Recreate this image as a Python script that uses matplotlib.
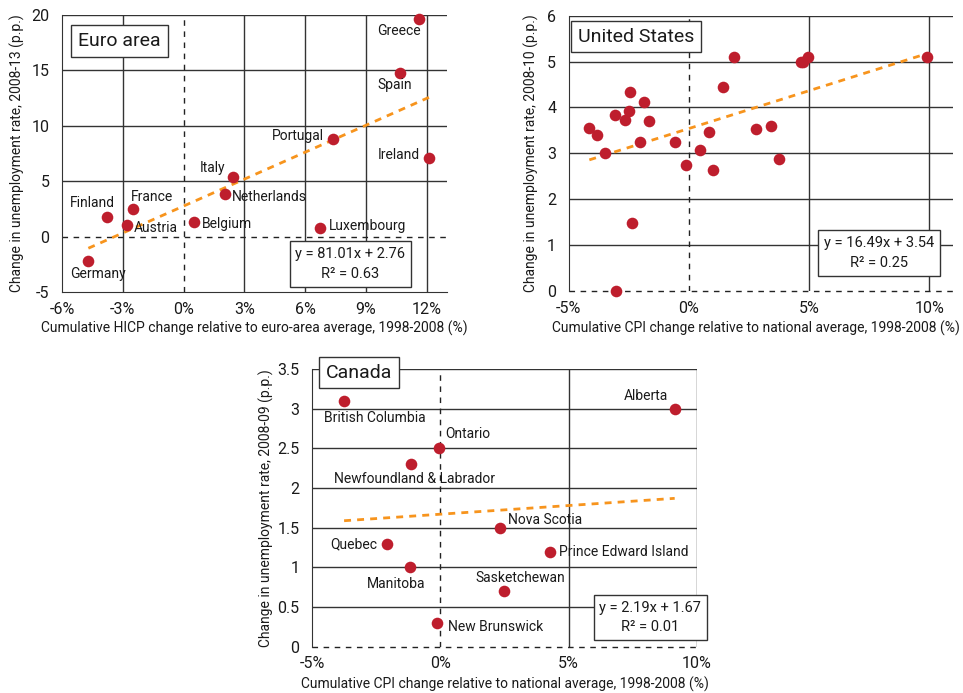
import matplotlib
matplotlib.use("Agg")
import matplotlib.pyplot as plt
import numpy as np

plt.rcParams['font.family'] = ['Roboto', 'DejaVu Sans']

# ---------------- data ----------------
euro_names = ["Greece", "Spain", "Portugal", "Ireland", "Italy", "Netherlands",
              "Belgium", "Luxembourg", "France", "Finland", "Austria", "Germany"]
euro_x = [11.62, 10.67, 7.35, 12.12, 2.45, 2.06, 0.51, 6.72, -2.51, -3.78, -2.78, -4.70]
euro_y = [19.6, 14.73, 8.77, 7.08, 5.36, 3.89, 1.36, 0.75, 2.47, 1.75, 1.08, -2.23]
euro_fit = (81.01, 2.76, 0.63)

us_x = [-4.14, -3.82, -3.49, -3.06, -3.04, -2.65, -2.48, -2.43, -2.36, -2.05, -1.87,
        -1.65, -0.56, -0.12, 0.46, 0.84, 1.02, 1.43, 1.89, 2.79, 3.41, 3.76, 4.65,
        4.76, 4.94, 9.90]
us_y = [3.56, 3.39, 3.01, 3.84, 0.0, 3.73, 3.92, 4.34, 1.49, 3.25, 4.12,
        3.70, 3.25, 2.74, 3.08, 3.46, 2.64, 4.45, 5.10, 3.53, 3.59, 2.88, 4.98,
        4.99, 5.10, 5.10]
us_fit = (16.49, 3.54, 0.25)

ca_names = ["British Columbia", "Alberta", "Ontario", "Newfoundland & Labrador",
            "Nova Scotia", "Quebec", "Prince Edward Island", "Manitoba",
            "Sasketchewan", "New Brunswick"]
ca_x = [-3.75, 9.13, -0.04, -1.14, 2.34, -2.08, 4.27, -1.18, 2.49, -0.14]
ca_y = [3.10, 3.00, 2.50, 2.30, 1.50, 1.30, 1.20, 1.00, 0.70, 0.30]
ca_fit = (2.19, 1.67, 0.01)

euro_xticks = [-6, -3, 0, 3, 6, 9, 12]
euro_yticks = [-5, 0, 5, 10, 15, 20]
us_xticks = [-5, 0, 5, 10]
us_yticks = [0, 1, 2, 3, 4, 5, 6]
ca_xticks = [-5, 0, 5, 10]
ca_yticks = [0, 0.5, 1, 1.5, 2, 2.5, 3, 3.5]

# label offsets (points) and alignment
euro_lab = {
    "Greece": (-14.6, -8.6, "center"), "Spain": (-4, -8.6, "center"),
    "Portugal": (-6, 2.4, "right"), "Ireland": (-6.7, 2, "right"),
    "Italy": (-5.5, 6.3, "right"), "Netherlands": (5, -2.6, "left"),
    "Belgium": (5.5, -1.9, "left"), "Luxembourg": (6.5, 1.7, "left"),
    "France": (-1.2, 8.9, "left"), "Finland": (-10.8, 10.3, "center"),
    "Austria": (5, -2.2, "left"), "Germany": (7, -9.4, "center"),
}
ca_lab = {
    "British Columbia": (22.4, -12.5, "center"), "Alberta": (-4.6, 9.4, "right"),
    "Ontario": (4.1, 10.3, "left"), "Newfoundland & Labrador": (2.6, -10.6, "center"),
    "Nova Scotia": (5.8, 5.5, "left"), "Quebec": (-6.7, -0.5, "right"),
    "Prince Edward Island": (6.5, -0.7, "left"), "Manitoba": (-9.8, -11.8, "center"),
    "Sasketchewan": (11.5, 9.6, "center"), "New Brunswick": (8.4, -3.1, "left"),
}

RED = "#BE1E2D"
ORANGE = "#F7941D"
GRID = "#333333"
TXT = "#1a1a1a"

fig = plt.figure(figsize=(9.63, 6.93), dpi=100)


def setup(ax, xlim, ylim, xticks, yticks, xlabel, ylabel, title, title_pos,
          eq, eq_pos, xs, ys, ylab_x, xlab_pos, dashed_bottom):
    ax.set_xlim(*xlim)
    ax.set_ylim(*ylim)
    ax.set_xticks(xticks)
    ax.set_yticks(yticks)
    ax.set_xticklabels([f"{v:g}%" for v in xticks])
    ax.set_yticklabels([f"{v:g}" for v in yticks])
    ax.tick_params(length=0, labelsize=11.5, colors=TXT)
    ax.tick_params(axis="x", pad=7)
    ax.tick_params(axis="y", pad=9)
    for s in ["top", "right"]:
        ax.spines[s].set_visible(False)
    ax.spines["left"].set_color(GRID)
    ax.spines["bottom"].set_color(GRID)
    if dashed_bottom:
        ax.spines["bottom"].set_visible(False)
    for v in xticks:
        if v == 0 or v == xlim[0]:
            continue
        ax.axvline(v, color=GRID, lw=1, zorder=1)
    for v in yticks:
        if v == 0 or v == ylim[0]:
            continue
        ax.axhline(v, color=GRID, lw=1, zorder=1)
    ax.axvline(0, color="#222222", lw=1, ls=(0, (4, 4)), zorder=1)
    ax.axhline(0, color="#222222", lw=1, ls=(0, (4, 4)), zorder=1, clip_on=False)
    ax.set_xlabel(xlabel, fontsize=10, color=TXT)
    ax.set_ylabel(ylabel, fontsize=10, color=TXT)
    ax.yaxis.set_label_coords(ylab_x, 0.5)
    ax.xaxis.set_label_coords(xlab_pos[0], xlab_pos[1])
    ax.text(title_pos[0], title_pos[1], title, transform=ax.transAxes,
            ha="center", va="center", fontsize=14, color=TXT, zorder=6,
            bbox=dict(boxstyle="square,pad=0.35", fc="white", ec=GRID, lw=1))
    slope, icpt, r2 = eq
    ax.text(eq_pos[0], eq_pos[1], f"y = {slope:.2f}x + {icpt:.2f}\nR² = {r2:.2f}",
            transform=ax.transAxes, ha="center", va="center", fontsize=10.5,
            color=TXT, linespacing=1.5, zorder=6,
            bbox=dict(boxstyle="square,pad=0.4", fc="white", ec=GRID, lw=1))
    # trend line
    xx = np.array([min(xs), max(xs)])
    ax.plot(xx, slope * xx / 100 + icpt, color=ORANGE, lw=2,
            ls=(0, (2.5, 2.2)), zorder=3)
    ax.scatter(xs, ys, s=70, color=RED, zorder=4, clip_on=False, linewidths=0)


# Euro area
ax1 = fig.add_axes([0.0644, 0.5786, 0.3998, 0.3997])
setup(ax1, (-6, 13), (-5, 20), euro_xticks, euro_yticks,
      "Cumulative HICP change relative to euro-area average, 1998-2008 (%)",
      "Change in unemployment rate, 2008-13 (p.p.)",
      "Euro area", (0.149, 0.906), euro_fit, (0.749, 0.101),
      euro_x, euro_y, -0.096, (0.5, -0.105), False)
for n, x, y in zip(euro_names, euro_x, euro_y):
    dx, dy, ha = euro_lab[n]
    ax1.annotate(n, (x, y), xytext=(dx, dy), textcoords="offset points",
                 ha=ha, va="center", fontsize=10, color=TXT, zorder=5)

# United States
ax2 = fig.add_axes([0.5905, 0.5801, 0.3994, 0.3973])
setup(ax2, (-5, 11), (0, 6), us_xticks, us_yticks,
      "Cumulative CPI change relative to national average, 1998-2008 (%)",
      "Change in unemployment rate, 2008-10 (p.p.)",
      "United States", (0.175, 0.924), us_fit, (0.808, 0.138),
      us_x, us_y, -0.077, (0.486, -0.109), True)

# Canada
ax3 = fig.add_axes([0.324, 0.0668, 0.3998, 0.4007])
setup(ax3, (-5, 10), (0, 3.5), ca_xticks, ca_yticks,
      "Cumulative CPI change relative to national average, 1998-2008 (%)",
      "Change in unemployment rate, 2008-09 (p.p.)",
      "Canada", (0.122, 0.987), ca_fit, (0.879, 0.105),
      ca_x, ca_y, -0.099, (0.5, -0.109), True)
for n, x, y in zip(ca_names, ca_x, ca_y):
    dx, dy, ha = ca_lab[n]
    ax3.annotate(n, (x, y), xytext=(dx, dy), textcoords="offset points",
                 ha=ha, va="center", fontsize=10, color=TXT, zorder=5)

fig.savefig("out.png", dpi=100)
